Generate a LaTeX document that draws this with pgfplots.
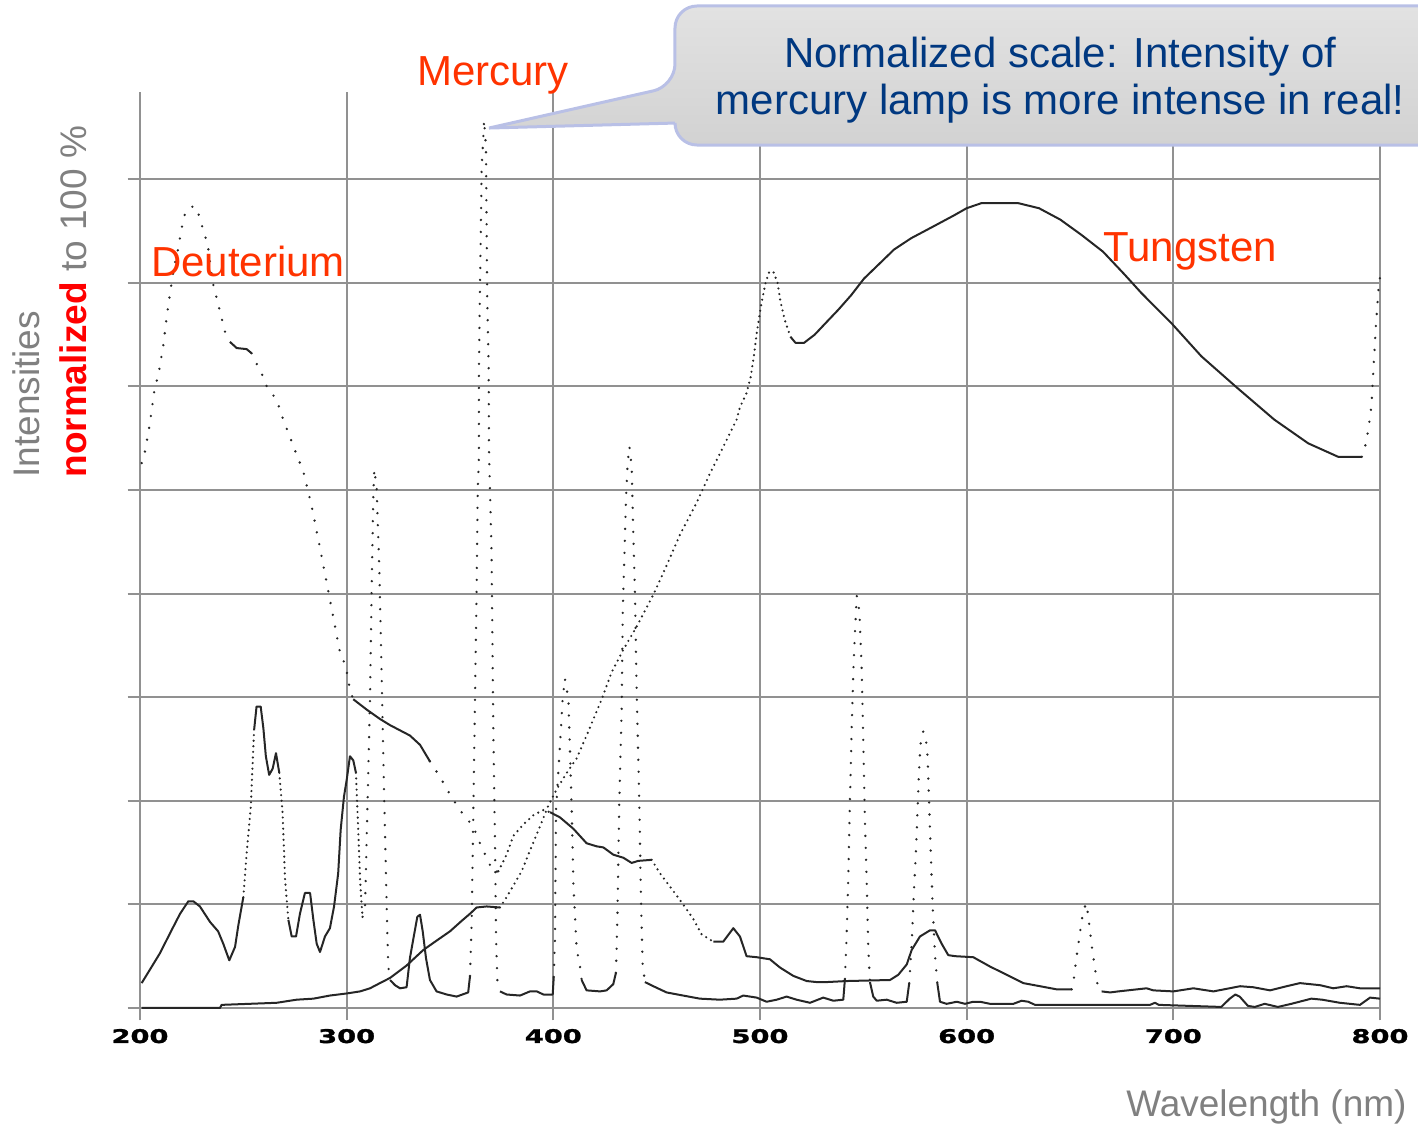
\documentclass[border=0pt]{standalone}
\usepackage{pgfplots}
\pgfplotsset{compat=1.18}
\usepackage{fontspec}
\setmainfont{Liberation Sans}
\newfontfamily\tickfont[FakeStretch=1.45,FakeBold=1.6]{DejaVu Sans Bold}
\definecolor{gridgray}{RGB}{145,145,145}
\definecolor{lblgray}{RGB}{128,128,128}
\definecolor{annred}{RGB}{255,51,0}
\definecolor{bubblue}{RGB}{0,56,128}
\definecolor{bubedge}{RGB}{185,192,230}
\definecolor{bubtop}{RGB}{226,226,226}
\definecolor{bubbot}{RGB}{210,210,210}
\pgfplotsset{
 sol/.style={black!85, line width=1.0pt, no marks, line join=round},
 dts/.style={black!85, line width=1.3pt, no marks, line cap=round, dash pattern=on 0pt off 6pt},
 dns/.style={black!85, line width=1.2pt, no marks, line cap=round, dash pattern=on 0pt off 2.8pt},
}
\begin{document}
\begin{tikzpicture}
\begin{axis}[
 scale only axis, width=620pt, height=458pt,
 xmin=200, xmax=800, ymin=0, ymax=8.842,
 clip=false,
 axis line style={draw=none},
 xtick={200,300,...,800}, ytick={0,1,...,8},
 xticklabels={,,,,,,}, yticklabels={,,,,,,,,},
 grid=major, major grid style={draw=gridgray, line width=1pt},
 tick align=outside, major tick length=6.2pt,
 tick style={draw=gridgray, line width=1pt},
 tick pos=left,
]
% ---------------- Deuterium ----------------
\addplot[dts] coordinates {(200.8,5.26)(202.4,5.37)(204.5,5.61)(206.9,5.95)(209.3,6.16)(211.3,6.40)(212.9,6.67)(215,6.96)(216.6,7.16)(218.5,7.33)(220.2,7.53)(221.8,7.67)(224.2,7.73)(226.6,7.74)(228.2,7.67)(230.3,7.53)(231.8,7.43)(233.1,7.32)(235.1,7.01)(237.4,6.83)(239.5,6.66)(241.1,6.53)(243.5,6.43)};
\addplot[sol] coordinates {(243.5,6.43)(246.8,6.37)(251.6,6.36)(254.0,6.32)};
\addplot[dts] coordinates {(254,6.32)(256.4,6.22)(259.7,6.09)(261.3,6.0)(266.1,5.87)(269.3,5.68)(272.6,5.51)(275.8,5.34)(279.0,5.18)(283.1,4.84)(287,4.45)(292,3.93)(296.8,3.43)(298.7,3.34)(300,3.25)(301.6,3.07)(303.2,2.98)};
\addplot[sol] coordinates {(303.2,2.98)(309.7,2.88)(316.1,2.79)(321,2.73)(325.8,2.68)(330.6,2.63)(335.5,2.54)(340.3,2.38)};
\addplot[dts] coordinates {(340.3,2.38)(345.2,2.23)(350,2.06)(354.8,1.91)(361.3,1.75)(364.5,1.59)(367.7,1.45)(371,1.31)(373.4,1.32)};
\addplot[dns] coordinates {(373.4,1.32)(377.4,1.48)(380.6,1.66)(385.4,1.77)(390.3,1.86)(395.1,1.91)(398.4,1.89)};
\addplot[sol] coordinates {(398.4,1.89)(403.2,1.84)(409.7,1.73)(416.1,1.59)(421,1.56)(424.2,1.55)(429,1.48)(433.9,1.45)(437.9,1.40)(441.1,1.42)(447.6,1.43)};
\addplot[dns] coordinates {(447.6,1.43)(451.6,1.30)(456.5,1.17)(462.1,1.02)(467.7,0.86)(471.8,0.71)(477.4,0.64)};
\addplot[sol] coordinates {(477.4,0.64)(482.2,0.64)(487.1,0.77)(490.3,0.69)(493.5,0.50)(498.4,0.49)(504.8,0.47)(509.7,0.39)(516.1,0.31)(522.6,0.26)(527.4,0.25)(532.3,0.25)(541.9,0.26)(562.9,0.27)(566.9,0.32)(571,0.42)(573.4,0.56)(577.4,0.69)(582.3,0.75)(584.7,0.75)(587.9,0.62)(591.1,0.51)(594.4,0.50)(603.2,0.49)(611.3,0.40)(619.4,0.32)(627.4,0.24)(635.5,0.21)(643.5,0.18)(650.8,0.18)};
\addplot[dts] coordinates {(650.8,0.18)(651.6,0.24)(652.4,0.37)(653.5,0.54)(654.8,0.72)(656.1,0.90)(657.7,1.01)(658.8,0.90)(659.7,0.74)(660.8,0.56)(662.1,0.38)(663.2,0.24)(665.3,0.16)};
\addplot[sol] coordinates {(665.3,0.16)(669.4,0.15)(673.4,0.16)(687.1,0.19)(690.3,0.17)(700,0.16)(709.7,0.19)(719.4,0.16)(732.3,0.21)(738.7,0.20)(746.8,0.17)(754.8,0.21)(761.3,0.24)(771,0.22)(777.4,0.19)(783.9,0.21)(790.3,0.19)(800,0.19)};
% ---------------- Mercury ----------------
\addplot[sol] coordinates {(200.8,0.24)(204.8,0.37)(209.7,0.53)(214.5,0.72)(219.4,0.91)(223.4,1.03)(225.8,1.03)(229,0.98)(233.9,0.83)(237.8,0.74)(240.3,0.62)(243.2,0.46)(246,0.59)(247.6,0.80)(250,1.07)};
\addplot[dns] coordinates {(250,1.07)(251.6,1.49)(253.6,1.94)(255.2,2.68)};
\addplot[sol] coordinates {(255.2,2.68)(256.4,2.91)(258.4,2.91)(259.7,2.70)(260.9,2.43)(262.5,2.25)(264.2,2.31)(265.8,2.46)(267.4,2.27)};
\addplot[dns] coordinates {(267.4,2.27)(269,1.88)(270.2,1.24)(271.8,0.85)};
\addplot[sol] coordinates {(271.8,0.85)(273.4,0.69)(275.5,0.69)(277.4,0.91)(279.8,1.11)(282.3,1.11)(283.9,0.85)(285.5,0.62)(287.1,0.54)(289.5,0.69)(291.9,0.77)(293.9,0.98)(295.9,1.30)(297.1,1.72)(298.7,2.04)(300,2.20)(301.6,2.43)(303.2,2.39)(304.5,2.27)};
\addplot[dns] coordinates {(304.5,2.27)(305.6,1.72)(306.5,1.24)(307.3,0.98)(307.7,0.88)};
\addplot[dts] coordinates {(307.7,0.88)(308.9,0.98)(311.3,2.98)(312.1,4.06)(312.9,4.95)(313.4,5.20)(314.5,5.02)(315.8,4.23)(317,3.16)(318.1,2.09)(319.4,0.95)(320.1,0.41)(321,0.27)};
\addplot[sol] coordinates {(321,0.27)(323.4,0.22)(325.8,0.19)(329,0.20)(330.6,0.48)(332.2,0.66)(334.2,0.88)(335.5,0.90)(336.8,0.74)(338.4,0.48)(340.3,0.27)(343.5,0.16)(348.4,0.13)(353.2,0.11)(358.8,0.15)(359.7,0.31)};
\addplot[dts] coordinates {(359.7,0.31)(360.5,0.84)(361.3,1.91)(362.1,2.98)(362.9,4.06)(363.4,4.98)(364,5.32)(364,6.16)(364.5,6.96)(365,7.61)(365.3,8.12)(366.1,8.38)(366.5,8.57)(367.4,8.31)(367.7,7.61)(368,6.87)(368.7,6.22)(368.9,5.35)(370.1,4.41)(371,2.63)(371.8,1.56)(372.3,0.66)(372.9,0.27)(374.2,0.16)};
\addplot[sol] coordinates {(374.2,0.16)(377.4,0.13)(383.9,0.12)(388.7,0.16)(392,0.16)(395.2,0.13)(398.4,0.13)(399.7,0.13)(400.2,0.30)};
\addplot[dts] coordinates {(400.2,0.30)(400.8,0.66)(401.3,1.91)(402.4,2.27)(403.5,2.63)(404.5,2.98)(405.6,3.18)(407.3,2.98)(408.1,2.45)(408.9,1.91)(409.7,1.20)(411.3,0.56)(412.6,0.45)(413.7,0.27)};
\addplot[sol] coordinates {(413.7,0.27)(416.1,0.17)(422.6,0.16)(425.8,0.17)(429,0.23)(430.3,0.34)};
\addplot[dts] coordinates {(430.3,0.34)(431,0.87)(431.9,1.98)(433.1,2.91)(433.6,3.83)(434.4,4.38)(435.2,4.94)(436,5.27)(436.8,5.42)(437.9,5.23)(438.7,4.57)(439.5,4.01)(440.3,3.09)(441.6,1.98)(442.4,1.06)(443.2,0.43)(444.3,0.25)};
\addplot[sol] coordinates {(444.3,0.25)(448.4,0.21)(454.8,0.15)(462.8,0.12)(470.9,0.09)(480.6,0.08)(488.7,0.09)(491.9,0.12)(498.4,0.10)(503.2,0.06)(508.1,0.08)(512.9,0.11)(517.7,0.08)(524.2,0.05)(530.6,0.10)(535.5,0.07)(540.3,0.08)(541.1,0.28)};
\addplot[dts] coordinates {(541.1,0.28)(541.9,0.69)(542.7,1.24)(543.5,1.98)(544.4,2.72)(545.2,3.27)(546,3.64)(546.8,3.98)(548.1,3.83)(549.2,3.27)(550,2.54)(550.8,1.80)(551.6,1.24)(552.4,0.58)(553.2,0.25)};
\addplot[sol] coordinates {(553.2,0.25)(554.8,0.11)(556.5,0.07)(561.3,0.08)(566.1,0.05)(571,0.06)(572.2,0.24)};
\addplot[dts] coordinates {(572.2,0.24)(573.4,0.62)(574.5,1.14)(575.5,1.53)(576.3,1.94)(576.9,2.27)(577.7,2.55)(579,2.67)(580.3,2.59)(581.1,2.43)(581.9,1.94)(582.7,1.46)(583.5,1.01)(584.7,0.50)(585.8,0.24)};
\addplot[sol] coordinates {(585.8,0.24)(587.1,0.06)(590.3,0.04)(595.2,0.06)(599.2,0.04)(603.2,0.06)(606.5,0.06)(611.3,0.04)(622.6,0.04)(626.6,0.07)(629.8,0.06)(633.1,0.03)(688.7,0.03)(691.1,0.05)(693,0.03)(723.2,0.01)(727.3,0.09)(730,0.13)(732.1,0.11)(736.1,0.02)(739.4,0.01)(744.2,0.04)(750.6,0.01)(757.1,0.04)(766.8,0.09)(772,0.08)(780.6,0.05)(790.3,0.03)(795.2,0.10)(800,0.09)};
% ---------------- Tungsten ----------------
\addplot[sol] coordinates {(200.8,0.0)(238.7,0.0)(239.5,0.03)(266.1,0.05)(275.8,0.08)(283.9,0.09)(291.9,0.12)(300,0.14)(306.5,0.16)(311.3,0.19)(316.1,0.24)(321,0.29)(329,0.41)(337.1,0.56)(343.5,0.65)(350,0.74)(355.6,0.84)(359.7,0.91)(362.9,0.97)(367.7,0.98)(374.2,0.97)};
\addplot[dns] coordinates {(374.2,0.97)(377.4,1.07)(380.6,1.18)(384.7,1.32)(388.7,1.52)(393.5,1.75)(397.5,1.95)(401.6,2.11)(406.5,2.27)(411.3,2.41)(416.1,2.63)(423.4,2.98)(428.2,3.24)(433.9,3.46)(440.3,3.68)(448.4,3.99)(454.8,4.27)(461.3,4.57)(469.4,4.88)(475.8,5.16)(482.3,5.42)(488.7,5.68)(490.3,5.80)(493.4,5.93)(495.5,6.09)(497,6.29)(498.6,6.54)(500.7,6.80)(502.7,7.0)(504.4,7.10)(506.4,7.11)(508.5,7.0)(509.9,6.82)(512,6.64)(514.7,6.48)};
\addplot[sol] coordinates {(514.7,6.48)(517.2,6.42)(521.3,6.42)(526.5,6.50)(531.7,6.61)(537.9,6.74)(544.1,6.88)(550.3,7.04)(558.6,7.20)(564.8,7.32)(573.1,7.43)(583.5,7.54)(593.8,7.65)(600,7.72)(607.3,7.77)(624.7,7.77)(635,7.72)(645.3,7.61)(655.7,7.46)(666,7.30)(676.4,7.08)(684.6,6.90)(699.1,6.61)(713.6,6.29)(730.1,6.0)(748.8,5.68)(765.3,5.45)(779.8,5.32)(791.2,5.32)};
\addplot[dts] coordinates {(791.2,5.32)(793.2,5.45)(794.7,5.63)(795.9,5.82)(796.8,6.16)(798,6.58)(799.5,7.01)(800,7.05)};
% ---------------- tick labels ----------------
\node[font=\tickfont\fontsize{9.4}{9.4}\selectfont, anchor=base] at (axis cs:200,-0.338) {200};
\node[font=\tickfont\fontsize{9.4}{9.4}\selectfont, anchor=base] at (axis cs:300,-0.338) {300};
\node[font=\tickfont\fontsize{9.4}{9.4}\selectfont, anchor=base] at (axis cs:400,-0.338) {400};
\node[font=\tickfont\fontsize{9.4}{9.4}\selectfont, anchor=base] at (axis cs:500,-0.338) {500};
\node[font=\tickfont\fontsize{9.4}{9.4}\selectfont, anchor=base] at (axis cs:600,-0.338) {600};
\node[font=\tickfont\fontsize{9.4}{9.4}\selectfont, anchor=base] at (axis cs:700,-0.338) {700};
\node[font=\tickfont\fontsize{9.4}{9.4}\selectfont, anchor=base] at (axis cs:800,-0.338) {800};
% ---------------- labels ----------------
\node[anchor=base east, inner sep=0pt, font=\fontsize{18.5}{22}\selectfont, text=lblgray] at (axis cs:813.06,-1.052) {Wavelength (nm)};
\node[rotate=90, anchor=base west, inner sep=0pt, font=\fontsize{18.5}{22}\selectfont, text=lblgray] at (axis cs:151.61,5.116) {Intensities};
\node[rotate=90, anchor=base west, inner sep=0pt, font=\fontsize{18.5}{22}\selectfont, text=lblgray] at (axis cs:174.35,5.116) {\textcolor{red}{\bfseries normalized} to 100 \%};
% ---------------- annotations ----------------
\node[anchor=base, font=\fontsize{21}{24}\selectfont, text=annred] at (axis cs:370.8,8.90) {Mercury};
\node[anchor=base, font=\fontsize{21}{24}\selectfont, text=annred] at (axis cs:252.3,7.06) {Deuterium};
\node[anchor=base, font=\fontsize{21}{24}\selectfont, text=annred] at (axis cs:708.1,7.21) {Tungsten};
\shade[top color=bubtop, bottom color=bubbot, draw=bubedge, line width=1.5pt, rounded corners=11pt]
 (axis cs:458.87,8.900) [sharp corners] -- (axis cs:368.9,8.494) -- (axis cs:458.87,8.542) [rounded corners=11pt] -- (axis cs:458.87,8.330) -- (axis cs:833.9,8.330) -- (axis cs:833.9,9.672) -- (axis cs:458.87,9.672) -- cycle;
\node[anchor=base, font=\fontsize{21}{24}\selectfont, text=bubblue] at (axis cs:645.3,9.08) {Normalized scale: Intensity of};
\node[anchor=base, font=\fontsize{21}{24}\selectfont, text=bubblue] at (axis cs:645.3,8.62) {mercury lamp is more intense in real!};
\coordinate (BL) at (axis cs:132.26,-1.139);
\coordinate (TR) at (axis cs:818.39,9.730);
\end{axis}
\pgfresetboundingbox
\path[use as bounding box] (BL) rectangle (TR);
\end{tikzpicture}
\end{document}
